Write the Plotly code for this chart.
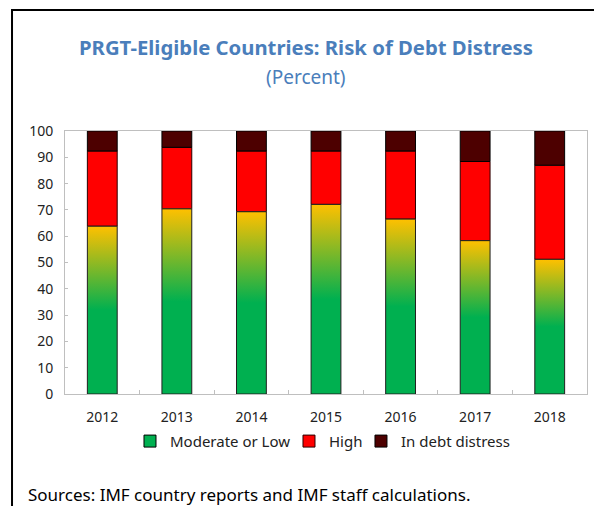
import plotly.graph_objects as go

years = ["2012", "2013", "2014", "2015", "2016", "2017", "2018"]
moderate_low = [63.8, 70.4, 69.3, 72.1, 66.5, 58.3, 51.2]
high = [28.6, 23.4, 23.1, 20.3, 25.9, 30.1, 35.8]
distress = [7.6, 6.2, 7.6, 7.6, 7.6, 11.6, 13.0]

idx = list(range(len(years)))
half = 0.2  # half bar width
green, yellow = "#00B050", "#FFC000"
font = "Noto Sans"

fig = go.Figure()

# gradient bars for "Moderate or Low" (one filled polygon per year)
for i, v in zip(idx, moderate_low):
    fig.add_trace(go.Scatter(
        x=[i - half, i + half, i + half, i - half, i - half],
        y=[0, 0, v, v, 0],
        mode="lines",
        fill="toself",
        fillgradient=dict(type="vertical",
                          colorscale=[[0, green], [0.5, green], [1, yellow]]),
        line=dict(color="#202020", width=1),
        showlegend=False,
        hoverinfo="skip"))

base2 = [a + b for a, b in zip(moderate_low, high)]
fig.add_trace(go.Bar(x=[None], y=[None], name="Moderate or Low", legend="legend",
                     marker=dict(color=green, line=dict(color="black", width=1))))
fig.add_trace(go.Bar(x=idx, y=high, base=moderate_low, width=2 * half, name="High", legend="legend2",
                     marker=dict(color="#FF0000", line=dict(color="#2a0000", width=1))))
fig.add_trace(go.Bar(x=idx, y=distress, base=base2, width=2 * half, name="In debt distress",
                     legend="legend3",
                     marker=dict(color="#4D0000", line=dict(color="black", width=1))))

leg = dict(orientation="h", y=-0.18, yanchor="middle", xanchor="left", font=dict(size=15),
           bgcolor="rgba(0,0,0,0)")

fig.update_layout(
    width=594,
    height=506,
    barmode="overlay",
    plot_bgcolor="white",
    paper_bgcolor="white",
    margin=dict(l=65, r=7, t=131, b=112),
    font=dict(family=font, size=14, color="#222222"),
    legend=dict(leg, x=0.1245),
    legend2=dict(leg, x=0.4291),
    legend3=dict(leg, x=0.567),
    annotations=[
        dict(text="<b>PRGT-Eligible Countries: Risk of Debt Distress</b>", xref="paper", yref="paper",
             x=0.4617, y=1.318, xanchor="center", yanchor="middle", showarrow=False,
             font=dict(size=20.3, color="#4A7EBB")),
        dict(text="(Percent)", xref="paper", yref="paper",
             x=0.4617, y=1.205, xanchor="center", yanchor="middle", showarrow=False,
             font=dict(size=19, color="#4A7EBB")),
        dict(text="Sources: IMF country reports and IMF staff calculations.", xref="paper", yref="paper",
             x=-0.075, y=-0.384, xanchor="left", yanchor="middle", showarrow=False,
             font=dict(size=17, color="black")),
    ],
    shapes=[
        dict(type="rect", xref="paper", yref="paper", x0=-0.1015, x1=1.1, y0=-0.6, y1=1.46,
             line=dict(color="black", width=2), layer="below"),
    ],
)
fig.update_xaxes(
    range=[-0.5, 6.5],
    tickvals=idx,
    ticktext=years,
    ticks="",
    ticklabelstandoff=10,
    showgrid=False,
    zeroline=False,
    showline=True,
    mirror=True,
    linecolor="#BFBFBF",
    linewidth=1,
    minor=dict(tickvals=[i + 0.5 for i in idx[:-1]], ticks="inside", ticklen=4, tickcolor="#BFBFBF"),
)
fig.update_yaxes(
    range=[0, 100],
    dtick=10,
    ticks="inside",
    ticklen=3,
    tickcolor="#BFBFBF",
    showgrid=False,
    zeroline=False,
    showline=True,
    mirror=True,
    linecolor="#BFBFBF",
    linewidth=1,
    ticklabelstandoff=8,
)

fig.write_html("out.html", config={"displayModeBar": False},
               post_script="document.body.style.margin='0';document.body.style.overflow='hidden';")
